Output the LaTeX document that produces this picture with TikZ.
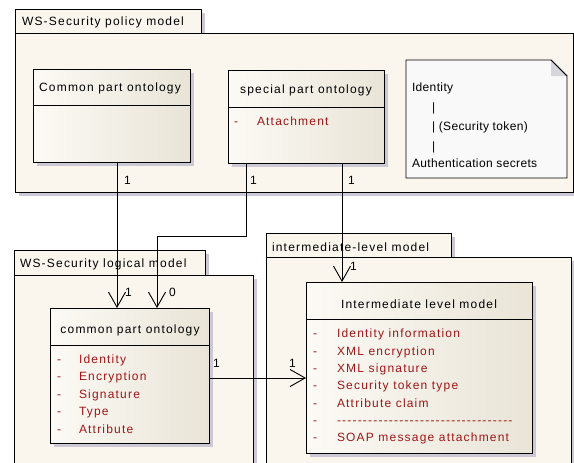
\documentclass[tikz,border=0pt]{standalone}
\usepackage{fontspec}
\newfontfamily\umlfont[LetterSpace=10]{Liberation Sans}
\newfontfamily\notefont[LetterSpace=3]{Liberation Sans}
\usetikzlibrary{arrows.meta,shadows}
\definecolor{pkgfill}{RGB}{250,246,238}
\definecolor{boxlight}{RGB}{252,250,245}
\definecolor{boxdark}{RGB}{233,228,215}
\definecolor{shadowc}{RGB}{204,200,214}
\definecolor{attr}{RGB}{158,22,22}
\definecolor{notefill}{RGB}{250,249,249}
\definecolor{foldfill}{RGB}{214,214,220}

\begin{document}
\begin{tikzpicture}[x=1pt,y=-1pt,line width=0.9pt,
  every node/.style={inner sep=0pt,outer sep=0pt},
  txt/.style={font=\umlfont\fontsize{12}{14}\selectfont,anchor=base west},
  ctxt/.style={font=\umlfont\fontsize{12}{14}\selectfont,anchor=base},
  notetxt/.style={font=\notefont\fontsize{12}{14}\selectfont,anchor=base west},
  item/.style={txt,text=attr},
  mult/.style={font=\umlfont\fontsize{12}{14}\selectfont,anchor=base west},
  softshadow/.style={drop shadow={shadow xshift=4pt,shadow yshift=-4pt,fill=shadowc,opacity=1}},
  pkg/.style={draw=black,fill=pkgfill,rectangle,softshadow},
  umlbox/.style={draw=black,rectangle,left color=boxlight,right color=boxdark,softshadow},
  assoc/.style={draw=black,line width=0.9pt,-{Straight Barb[length=15pt,width=17pt,line width=0.9pt]}},
  line/.style={draw=black,line width=0.9pt}]

\path[use as bounding box,fill=white] (0,0) rectangle (574,463);
\clip (0,0) rectangle (574,463);

% ---------- packages ----------
\node[pkg,minimum width=186,minimum height=24] (poltab) at (108,21) {};
\node[pkg,minimum width=558,minimum height=159] (polbody) at (294,112.5) {};
\node[txt] (poltitle) at (22,25) {WS-Security policy model};

\node[pkg,minimum width=191,minimum height=25] (logtab) at (109.5,262.5) {};
\node[pkg,minimum width=239,minimum height=215] (logbody) at (133.5,382.5) {};
\node[txt] (logtitle) at (20,267) {WS-Security logical model};

\node[pkg,minimum width=185,minimum height=24] (inttab) at (358.5,245) {};
\node[pkg,minimum width=305,minimum height=233] (intbody) at (418.5,373.5) {};
\node[txt] (inttitle) at (272,251) {intermediate-level model};

% ---------- classes ----------
\node[umlbox,minimum width=157,minimum height=93] (cpo1) at (111.5,115.5) {};
\draw[line] ([yshift=-36pt]cpo1.north west) -- ([yshift=-36pt]cpo1.north east);
\node[ctxt] (cpo1title) at (110,91) {Common part ontology};

\node[umlbox,minimum width=156,minimum height=93] (spo) at (306,116.5) {};
\draw[line] ([yshift=-37pt]spo.north west) -- ([yshift=-37pt]spo.north east);
\node[ctxt] (spotitle) at (306,93) {special part ontology};
\node[item] (spod) at (234,125) {-};
\node[item] (spoa) at (257,125) {Attachment};

\node[umlbox,minimum width=159,minimum height=135] (cpo2) at (129.5,375.5) {};
\draw[line] ([yshift=-37pt]cpo2.north west) -- ([yshift=-37pt]cpo2.north east);
\node[ctxt] (cpo2title) at (130,333) {common part ontology};
\foreach \t [count=\i] in {Identity,Encryption,Signature,Type,Attribute}{
  \node[item] (cpod\i) at (57,345.5+17.5*\i) {-};
  \node[item] (cpoa\i) at (79,345.5+17.5*\i) {\t};
}

\node[umlbox,minimum width=226,minimum height=171] (ilm) at (419,367.5) {};
\draw[line] ([yshift=-37pt]ilm.north west) -- ([yshift=-37pt]ilm.north east);
\node[ctxt] (ilmtitle) at (419,308) {Intermediate level model};
\foreach \t [count=\i] in {Identity information,XML encryption,XML signature,Security token type,Attribute claim,
  -{}-{}-{}-{}-{}-{}-{}-{}-{}-{}-{}-{}-{}-{}-{}-{}-{}-{}-{}-{}-{}-{}-{}-{}-{}-{}-{}-{}-{}-{}-{}-{}-{}-,
  SOAP message attachment}{
  \node[item] (ilmd\i) at (313,320.5+17.35*\i) {-};
  \node[item] (ilma\i) at (337,320.5+17.35*\i) {\t};
}

% ---------- note ----------
\path[draw=black,fill=notefill,line width=0.9pt] (406,60) -- (551,60) -- (567,76) -- (567,178) -- (406,178) -- cycle;
\path[fill=foldfill] (551,60) -- (567,76) -- (551,76) -- cycle;
\draw[line] (551,60) -- (567,76);
\node[notetxt] (n1) at (412,92) {Identity};
\node[notetxt] (n2) at (432,111) {|};
\node[notetxt] (n3) at (432,130) {| (Security token)};
\node[notetxt] (n4) at (432,150) {|};
\node[notetxt] (n5) at (412,167) {Authentication secrets};

% ---------- associations ----------
\draw[assoc] ([xshift=5.5pt]cpo1.south) -- ([xshift=-12.5pt]cpo2.north);
\draw[assoc] ([xshift=-60pt]spo.south) -- ++(0,73) -| ([xshift=27.5pt]cpo2.north);
\draw[assoc] ([xshift=36pt]spo.south) -- ([xshift=-77pt]ilm.north);
\draw[assoc] ([yshift=-2.5pt]cpo2.east) -- ([yshift=-2.5pt]cpo2.east -| ilm.west);

% multiplicities
\node[mult] (m1) at (124,184) {1};
\node[mult] (m2) at (250,184) {1};
\node[mult] (m3) at (348,184) {1};
\node[mult] (m4) at (125,296) {1};
\node[mult] (m5) at (169,296) {0};
\node[mult] (m6) at (350,270) {1};
\node[mult] (m7) at (213,367) {1};
\node[mult] (m8) at (289,367) {1};
\end{tikzpicture}
\end{document}
